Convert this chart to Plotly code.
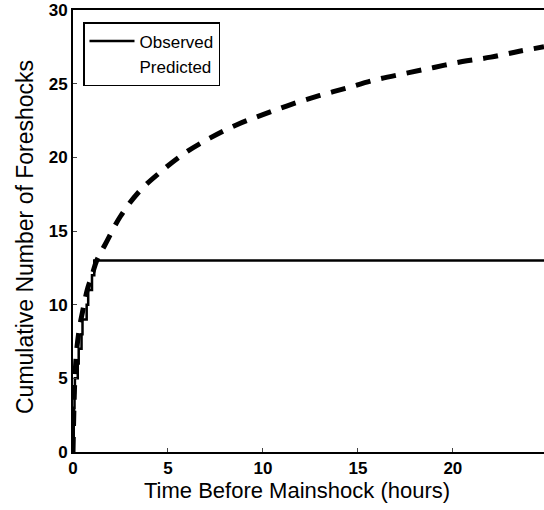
import plotly.graph_objects as go

# Observed cumulative foreshocks (step function)
obs_t = [0, 0.02, 0.04, 0.06, 0.08, 0.10, 0.25, 0.30, 0.45, 0.50, 0.72, 0.80, 1.00, 1.12, 24.8]
obs_n = [0, 1, 2, 3, 4, 5, 6, 7, 8, 9, 10, 11, 12, 13, 13]

# Predicted cumulative foreshocks
pred_t = [0, 0.05, 0.1, 0.2, 0.35, 0.5, 0.75, 1.0, 1.25, 1.7, 2.5, 3.5, 4.6, 5.9, 7.2,
          8.6, 10.0, 11.5, 13.0, 14.4, 15.9, 17.5, 19.0, 20.5, 22.0, 23.5, 24.8]
pred_n = [0, 3, 5, 7, 8.5, 9.5, 11, 12, 13, 14.1, 16.0, 17.7, 19.0, 20.3, 21.3,
          22.2, 22.9, 23.6, 24.2, 24.7, 25.25, 25.7, 26.1, 26.5, 26.8, 27.2, 27.5]

x_ticks = [0, 5, 10, 15, 20]
y_ticks = [0, 5, 10, 15, 20, 25, 30]

font_family = "Liberation Sans, Arial, sans-serif"

W, H = 544, 510
ML, MR, MT, MB = 73, 0, 10, 58
pw = W - ML - MR
ph = H - MT - MB

fig = go.Figure()
fig.add_trace(go.Scatter(x=obs_t, y=obs_n, mode="lines", name="Observed",
                         line=dict(color="black", width=2.5, shape="hv")))
fig.add_trace(go.Scatter(x=pred_t, y=pred_n, mode="lines", name="Predicted",
                         showlegend=False,
                         line=dict(color="black", width=5, dash="15px,11px", shape="spline")))
# legend entry for the predicted curve (its sample is blank in the reference)
fig.add_trace(go.Scatter(x=[None], y=[None], mode="lines", name="Predicted",
                         line=dict(color="rgba(0,0,0,0)", width=1)))

fig.update_layout(
    width=W, height=H,
    margin=dict(l=ML, r=MR, t=MT, b=MB),
    paper_bgcolor="white", plot_bgcolor="white",
    font=dict(family=font_family, color="black", size=17),
    showlegend=True,
    legend=dict(x=(83 - ML) / pw, y=1 - (22 - MT) / ph, xanchor="left", yanchor="top",
                bordercolor="black", borderwidth=1.5, bgcolor="white",
                font=dict(size=17), tracegroupgap=0, itemwidth=45),
    xaxis=dict(range=[0, 24.8], tickvals=x_ticks, ticks="inside", ticklen=4,
               showline=True, linecolor="black", linewidth=2, mirror=True,
               showgrid=False, zeroline=False,
               tickfont=dict(size=17, weight="bold")),
    yaxis=dict(range=[0, 30], tickvals=y_ticks, ticks="inside", ticklen=4,
               showline=True, linecolor="black", linewidth=2, mirror=False,
               showgrid=False, zeroline=False,
               tickfont=dict(size=17, weight="bold")),
    annotations=[
        dict(text="Time Before Mainshock (hours)",
             x=(297 - ML) / pw, y=(H - MB - 491) / ph, xref="paper", yref="paper",
             xanchor="center", yanchor="middle",
             showarrow=False, font=dict(size=22)),
        dict(text="Cumulative Number of Foreshocks", textangle=-90,
             x=(25 - ML) / pw, y=(H - MB - 237) / ph, xref="paper", yref="paper",
             xanchor="center", yanchor="middle",
             showarrow=False, font=dict(size=23)),
    ],
)

fig.write_html("out.html")
